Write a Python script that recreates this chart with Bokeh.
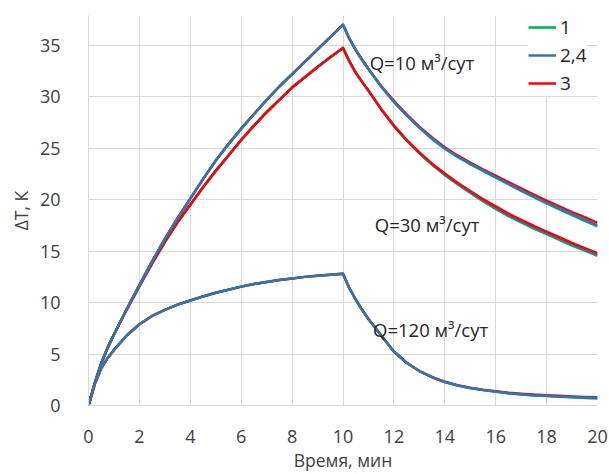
from bokeh.plotting import figure
from bokeh.models import Range1d, FixedTicker, Label, Legend, LegendItem
from bokeh.embed import file_html
from bokeh.resources import INLINE

# ---- data ----
t_heat = [0, 0.25, 0.5, 0.75, 1, 1.5, 2, 2.5, 3, 3.5, 4, 4.5, 5, 5.5, 6, 6.5, 7, 7.5, 8, 8.5, 9, 9.5, 10]
t_cool = [10.25, 10.5, 10.75, 11, 11.5, 12, 12.5, 13, 13.5, 14, 14.5, 15, 15.5, 16, 16.5, 17, 17.5, 18, 18.5, 19, 19.5, 20]

# Q = 10 m3/day (heating identical for curves 1, 2,4, 3)
q10_heat = [0, 2.2, 4.1, 5.6, 6.9, 9.35, 11.7, 14.0, 16.2, 18.2, 20.1, 22.0, 23.8, 25.4, 26.9, 28.3, 29.7,
            31.0, 32.2, 33.4, 34.6, 35.8, 37.0]
q10_s1_cool = [35.65, 34.55, 33.6, 32.7, 31.0, 29.5, 28.2, 27.0, 25.9, 24.95, 24.15, 23.45, 22.8, 22.15, 21.5,
               20.85, 20.25, 19.65, 19.05, 18.5, 17.95, 17.4]
q10_s24_cool = [35.65, 34.55, 33.6, 32.7, 31.0, 29.5, 28.2, 27.0, 25.95, 25.0, 24.2, 23.5, 22.85, 22.2, 21.55,
                20.9, 20.3, 19.7, 19.15, 18.6, 18.05, 17.5]
q10_s3_cool = [35.65, 34.55, 33.6, 32.7, 31.05, 29.6, 28.3, 27.1, 26.05, 25.1, 24.3, 23.6, 22.95, 22.35, 21.7,
               21.1, 20.5, 19.9, 19.35, 18.8, 18.3, 17.75]

# Q = 30 m3/day
q30_heat = [0, 2.2, 4.1, 5.6, 6.9, 9.3, 11.6, 13.8, 15.9, 17.8, 19.5, 21.2, 22.8, 24.3, 25.8, 27.2, 28.5,
            29.7, 30.9, 31.9, 32.9, 33.85, 34.75]
q30_s1_cool = [33.45, 32.35, 31.45, 30.6, 28.8, 27.15, 25.75, 24.5, 23.4, 22.4, 21.5, 20.65, 19.85, 19.1, 18.4,
               17.8, 17.2, 16.65, 16.1, 15.55, 15.05, 14.55]
q30_s24_cool = [33.45, 32.35, 31.45, 30.6, 28.8, 27.2, 25.8, 24.55, 23.45, 22.45, 21.55, 20.75, 19.95, 19.2, 18.5,
                17.9, 17.3, 16.75, 16.2, 15.65, 15.15, 14.65]
q30_s3_cool = [33.45, 32.35, 31.45, 30.6, 28.8, 27.2, 25.8, 24.6, 23.5, 22.55, 21.65, 20.85, 20.05, 19.35, 18.65,
               18.05, 17.45, 16.9, 16.35, 15.8, 15.3, 14.8]

# Q = 120 m3/day
q120_heat = [0, 2.1, 3.6, 4.6, 5.4, 6.8, 7.9, 8.7, 9.3, 9.8, 10.2, 10.6, 10.95, 11.25, 11.55, 11.8, 12.0,
             12.2, 12.35, 12.5, 12.6, 12.7, 12.8]
q120_s1_cool = [11.4, 10.3, 9.3, 8.4, 6.8, 5.25, 4.15, 3.35, 2.75, 2.28, 1.95, 1.7, 1.5, 1.34, 1.19,
                1.08, 0.98, 0.92, 0.85, 0.79, 0.74, 0.69]
q120_s24_cool = [11.4, 10.3, 9.3, 8.4, 6.8, 5.25, 4.15, 3.35, 2.75, 2.28, 1.95, 1.7, 1.5, 1.35, 1.2,
                 1.1, 1.0, 0.95, 0.88, 0.82, 0.77, 0.72]
q120_s3_cool = [11.4, 10.3, 9.3, 8.4, 6.8, 5.25, 4.15, 3.35, 2.75, 2.3, 1.98, 1.73, 1.54, 1.39, 1.25,
                1.15, 1.06, 1.0, 0.94, 0.88, 0.83, 0.79]

series_names = ["1", "2,4", "3"]
x_ticks = [0, 2, 4, 6, 8, 10, 12, 14, 16, 18, 20]
y_ticks = [0, 5, 10, 15, 20, 25, 30, 35]
annotations = ["Q=10 м³/сут", "Q=30 м³/сут", "Q=120 м³/сут"]
x_title = "Время, мин"
y_title = "ΔT, К"

t = t_heat + t_cool

# ---- style ----
FONT = "Open Sans"
GREEN, BLUE, RED = "#00B050", "#2E75B6", "#FF0000"
GRID = "#D9D9D9"
TXT = "#404040"
LW = 2.5

p = figure(width=609, height=474, output_backend="svg", toolbar_location=None,
           x_range=Range1d(0, 20), y_range=Range1d(0, 37.9),
           min_border_left=88, min_border_right=12, min_border_top=15, min_border_bottom=69)
p.outline_line_color = None
p.background_fill_color = "white"
p.border_fill_color = "white"

p.xaxis.ticker = FixedTicker(ticks=x_ticks)
p.yaxis.ticker = FixedTicker(ticks=y_ticks)
p.xgrid.ticker = FixedTicker(ticks=x_ticks)
p.ygrid.ticker = FixedTicker(ticks=y_ticks)
for g in (p.xgrid, p.ygrid):
    g.grid_line_color = GRID
    g.grid_line_width = 1

for ax in (p.xaxis, p.yaxis):
    ax.axis_line_color = GRID
    ax.axis_line_width = 1
    ax.major_tick_line_color = None
    ax.minor_tick_line_color = None
    ax.major_label_text_font = FONT
    ax.major_label_text_font_size = "18px"
    ax.major_label_text_color = TXT
    ax.axis_label_text_font = FONT
    ax.axis_label_text_font_size = "17.5px"
    ax.axis_label_text_font_style = "normal"
    ax.axis_label_text_color = TXT

p.xaxis.axis_label = x_title
p.yaxis.axis_label = y_title
p.xaxis.major_label_standoff = 18
p.xaxis.axis_label_standoff = 2
p.yaxis.major_label_standoff = 22
p.yaxis.axis_label_standoff = 4


def draw(heat, cool, color):
    return p.line(t, heat + cool, line_color=color, line_width=LW, line_join="round")


# draw order: Q=30, Q=10, Q=120
draw(q30_heat, q30_s1_cool, GREEN)
draw(q30_heat, q30_s24_cool, BLUE)
draw(q30_heat, q30_s3_cool, RED)

r1 = draw(q10_heat, q10_s1_cool, GREEN)
r3 = draw(q10_heat, q10_s3_cool, RED)
r2 = draw(q10_heat, q10_s24_cool, BLUE)

draw(q120_heat, q120_s1_cool, GREEN)
draw(q120_heat, q120_s3_cool, RED)
draw(q120_heat, q120_s24_cool, BLUE)

label_pos = [(11.05, 33.3), (11.25, 17.6), (11.18, 7.4)]
for txt, (lx, ly) in zip(annotations, label_pos):
    p.add_layout(Label(x=lx, y=ly, text=txt, text_font=FONT, text_font_size="18.5px",
                       text_color="#262626", text_baseline="alphabetic"))

legend = Legend(items=[LegendItem(label=series_names[0], renderers=[r1]),
                       LegendItem(label=series_names[1], renderers=[r2]),
                       LegendItem(label=series_names[2], renderers=[r3])],
                location=(440, 309), orientation="vertical",
                glyph_width=28, glyph_height=20, label_height=20, spacing=2,
                padding=4, margin=0, label_standoff=4,
                label_text_font=FONT, label_text_font_size="19px", label_text_color="#262626",
                background_fill_color="white", background_fill_alpha=1.0,
                border_line_color=None)
p.add_layout(legend)

open("out.html", "w").write(file_html(p, INLINE))
